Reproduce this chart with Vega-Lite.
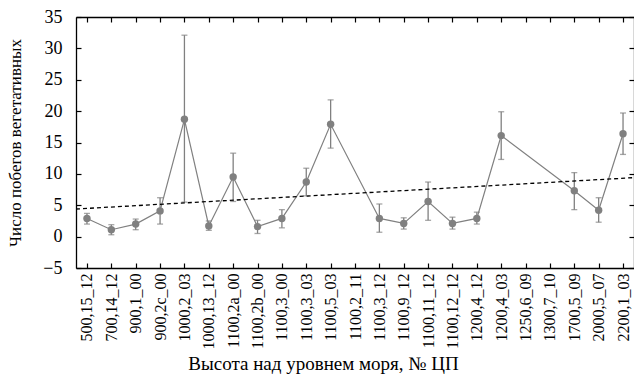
{
  "$schema": "https://vega.github.io/schema/vega-lite/v6.json",
  "width": 558,
  "height": 251,
  "autosize": "none",
  "padding": {"left": 76, "top": 17, "right": 0, "bottom": 106},
  "background": "white",
  "config": {
    "view": {"stroke": null},
    "font": "Liberation Serif",
    "axis": {"grid": false, "domainColor": "#000", "domainWidth": 1.3, "tickColor": "#000", "tickWidth": 1.2, "labelColor": "#000", "titleColor": "#000", "labelFont": "Liberation Serif", "titleFont": "Liberation Serif", "titleFontWeight": "normal", "labelOverlap": false}
  },
  "datasets": {
    "obs": [
      {"c": "500,15_12", "m": 2.9, "lo": 2.0, "hi": 3.7},
      {"c": "700,14_12", "m": 1.1, "lo": 0.3, "hi": 1.9},
      {"c": "900,1_00", "m": 2.0, "lo": 1.1, "hi": 2.8},
      {"c": "900,2c_00", "m": 4.1, "lo": 2.0, "hi": 6.2},
      {"c": "1000,2_03", "m": 18.7, "lo": 5.5, "hi": 32.1},
      {"c": "1000,13_12", "m": 1.7, "lo": 1.0, "hi": 2.5},
      {"c": "1100,2a_00", "m": 9.5, "lo": 5.6, "hi": 13.3},
      {"c": "1100,2b_00", "m": 1.6, "lo": 0.5, "hi": 2.6},
      {"c": "1100,3_00", "m": 2.9, "lo": 1.4, "hi": 4.3},
      {"c": "1100,3_03", "m": 8.7, "lo": 6.5, "hi": 10.9},
      {"c": "1100,5_03", "m": 17.9, "lo": 14.1, "hi": 21.8},
      {"c": "1100,3_12", "m": 2.9, "lo": 0.7, "hi": 5.2},
      {"c": "1100,9_12", "m": 2.1, "lo": 1.2, "hi": 3.0},
      {"c": "1100,11_12", "m": 5.6, "lo": 2.6, "hi": 8.7},
      {"c": "1100,12_12", "m": 2.1, "lo": 1.2, "hi": 3.1},
      {"c": "1200,4_12", "m": 2.9, "lo": 2.0, "hi": 3.9},
      {"c": "1200,4_03", "m": 16.1, "lo": 12.3, "hi": 19.9},
      {"c": "1700,5_09", "m": 7.3, "lo": 4.3, "hi": 10.2},
      {"c": "2000,5_07", "m": 4.2, "lo": 2.3, "hi": 6.2},
      {"c": "2200,1_03", "m": 16.4, "lo": 13.1, "hi": 19.7}
    ],
    "trend": [
      {"t": 0, "v": 4.4},
      {"t": 1, "v": 9.4}
    ]
  },
  "layer": [
    {
      "data": {"name": "obs"},
      "mark": {"type": "line", "color": "#808080", "strokeWidth": 1.2},
      "encoding": {
        "x": {
          "field": "c", "type": "ordinal", "sort": null,
          "scale": {"type": "point", "padding": 0.45, "domain": ["500,15_12","700,14_12","900,1_00","900,2c_00","1000,2_03","1000,13_12","1100,2a_00","1100,2b_00","1100,3_00","1100,3_03","1100,5_03","1100,2_11","1100,3_12","1100,9_12","1100,11_12","1100,12_12","1200,4_12","1200,4_03","1250,6_09","1300,7_10","1700,5_09","2000,5_07","2200,1_03"]},
          "axis": {"orient": "bottom", "title": "Высота над уровнем моря, № ЦП", "labelAngle": -90, "labelFont": "Liberation Serif", "labelFontSize": 16, "labelOverlap": false, "titleFontSize": 19, "tickSize": -5, "labelPadding": 10, "titlePadding": 5, "titleX": 247}
        },
        "y": {"field": "m", "type": "quantitative", "scale": {"domain": [-5, 35], "nice": false, "zero": false}, "axis": {"orient": "left", "title": "Число побегов вегетативных", "values": [-5,0,5,10,15,20,25,30,35], "format": "d", "labelFont": "Liberation Serif", "labelFontSize": 18, "labelOverlap": false, "titleFontSize": 17, "tickSize": -5, "labelPadding": 19, "titlePadding": 18}}
      }
    },
    {
      "data": {"name": "obs"},
      "mark": {"type": "rule", "color": "#808080", "strokeWidth": 1.3},
      "encoding": {
        "x": {"field": "c", "type": "ordinal", "sort": null, "scale": {"type": "point", "padding": 0.45, "domain": ["500,15_12","700,14_12","900,1_00","900,2c_00","1000,2_03","1000,13_12","1100,2a_00","1100,2b_00","1100,3_00","1100,3_03","1100,5_03","1100,2_11","1100,3_12","1100,9_12","1100,11_12","1100,12_12","1200,4_12","1200,4_03","1250,6_09","1300,7_10","1700,5_09","2000,5_07","2200,1_03"]}, "axis": null},
        "y": {"field": "lo", "type": "quantitative", "scale": {"domain": [-5, 35], "nice": false, "zero": false}, "axis": null},
        "y2": {"field": "hi"}
      }
    },
    {
      "data": {"name": "obs"},
      "mark": {"type": "tick", "color": "#808080", "size": 6, "thickness": 1.3},
      "encoding": {
        "x": {"field": "c", "type": "ordinal", "sort": null, "scale": {"type": "point", "padding": 0.45, "domain": ["500,15_12","700,14_12","900,1_00","900,2c_00","1000,2_03","1000,13_12","1100,2a_00","1100,2b_00","1100,3_00","1100,3_03","1100,5_03","1100,2_11","1100,3_12","1100,9_12","1100,11_12","1100,12_12","1200,4_12","1200,4_03","1250,6_09","1300,7_10","1700,5_09","2000,5_07","2200,1_03"]}, "axis": null},
        "y": {"field": "lo", "type": "quantitative", "scale": {"domain": [-5, 35], "nice": false, "zero": false}, "axis": null}
      }
    },
    {
      "data": {"name": "obs"},
      "mark": {"type": "tick", "color": "#808080", "size": 6, "thickness": 1.3},
      "encoding": {
        "x": {"field": "c", "type": "ordinal", "sort": null, "scale": {"type": "point", "padding": 0.45, "domain": ["500,15_12","700,14_12","900,1_00","900,2c_00","1000,2_03","1000,13_12","1100,2a_00","1100,2b_00","1100,3_00","1100,3_03","1100,5_03","1100,2_11","1100,3_12","1100,9_12","1100,11_12","1100,12_12","1200,4_12","1200,4_03","1250,6_09","1300,7_10","1700,5_09","2000,5_07","2200,1_03"]}, "axis": null},
        "y": {"field": "hi", "type": "quantitative", "scale": {"domain": [-5, 35], "nice": false, "zero": false}, "axis": null}
      }
    },
    {
      "data": {"name": "obs"},
      "mark": {"type": "circle", "color": "#808080", "size": 55, "opacity": 1},
      "encoding": {
        "x": {"field": "c", "type": "ordinal", "sort": null, "scale": {"type": "point", "padding": 0.45, "domain": ["500,15_12","700,14_12","900,1_00","900,2c_00","1000,2_03","1000,13_12","1100,2a_00","1100,2b_00","1100,3_00","1100,3_03","1100,5_03","1100,2_11","1100,3_12","1100,9_12","1100,11_12","1100,12_12","1200,4_12","1200,4_03","1250,6_09","1300,7_10","1700,5_09","2000,5_07","2200,1_03"]}, "axis": {"orient": "top", "title": null, "labels": false, "tickSize": -5}},
        "y": {"field": "m", "type": "quantitative", "scale": {"domain": [-5, 35], "nice": false, "zero": false}, "axis": {"orient": "right", "title": null, "labels": false, "values": [-5,0,5,10,15,20,25,30,35], "tickSize": -5}}
      }
    },
    {
      "data": {"name": "trend"},
      "mark": {"type": "line", "color": "#000", "strokeWidth": 1.3, "strokeDash": [4, 3]},
      "encoding": {
        "x": {"field": "t", "type": "quantitative", "scale": {"domain": [0, 1], "nice": false}, "axis": null},
        "y": {"field": "v", "type": "quantitative", "scale": {"domain": [-5, 35], "nice": false, "zero": false}, "axis": null}
      }
    }
  ],
  "resolve": {"scale": {"x": "independent", "y": "independent"}, "axis": {"x": "independent", "y": "independent"}}
}
